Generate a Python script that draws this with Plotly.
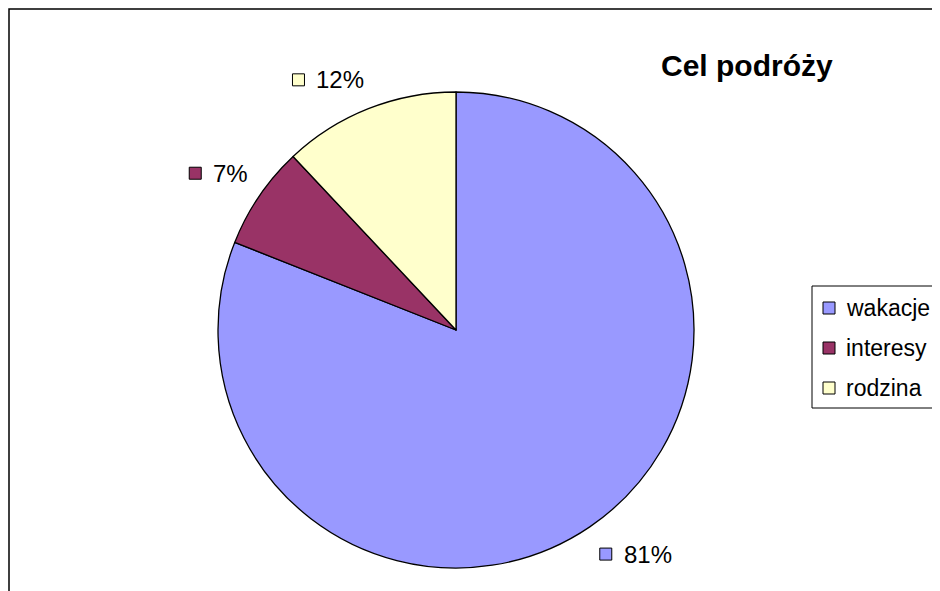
import math
import plotly.graph_objects as go

# ---- data ----
categories = ["wakacje", "interesy", "rodzina"]
shares = [81, 7, 12]
colors = ["#9999FF", "#993366", "#FFFFCC"]
title_text = "Cel podróży"

# ---- layout constants (window pixels) ----
OX, OY = 8, 8          # page body margin offset of the plot div
W, H = 940 - OX, 591 - OY
CX, CY, R = 456, 330, 238
FONT = "Liberation Sans, Arial, sans-serif"
FS = 24
CHAR_W = {"%": 0.889}


def text_width(s, size):
    return sum(CHAR_W.get(c, 0.556) for c in s) * size


def px_to_paper_x(px):
    return (px - OX) / W


def px_to_paper_y(py):
    return (OY + H - py) / H


fig = go.Figure()

fig.add_trace(go.Pie(
    labels=categories, values=shares, sort=False,
    direction="clockwise", rotation=0,
    marker=dict(colors=colors, line=dict(color="black", width=1.3)),
    textinfo="none", hoverinfo="label+percent", showlegend=False,
    domain=dict(x=[px_to_paper_x(CX - R), px_to_paper_x(CX + R)],
                y=[px_to_paper_y(CY + R), px_to_paper_y(CY - R)]),
))

# ---- data labels, positioned from slice geometry ----
total = sum(shares)
cum = 0
mx, my, mc = [], [], []
annotations = []
for cat, v, col in zip(categories, shares, colors):
    theta = 2 * math.pi * (cum + v / 2) / total
    cum += v
    dx, dy = math.sin(theta), -math.cos(theta)
    cx = CX + (R + 16) * dx
    cy = CY + (R + 16) * dy
    txt = f"{round(v / total * 100)}%"
    bw = 23 + text_width(txt, FS)
    bh = 28
    left = cx if dx >= 0 else cx - bw
    top = cy if dy >= 0 else cy - bh
    mx.append(left + 7)
    my.append(top + bh / 2)
    mc.append(col)
    annotations.append(dict(
        x=left + 23, y=top + bh / 2, xref="x", yref="y", text=txt,
        showarrow=False, xanchor="left", yanchor="middle",
        font=dict(family=FONT, size=FS, color="black"),
    ))

# ---- manual legend ----
LEG_X, LEG_Y0, LEG_DY = 829, 308, 40
for i, (cat, col) in enumerate(zip(categories, colors)):
    y = LEG_Y0 + i * LEG_DY
    mx.append(LEG_X)
    my.append(y)
    mc.append(col)
    annotations.append(dict(
        x=LEG_X + 15, y=y, xref="x", yref="y", text=cat,
        showarrow=False, xanchor="left", yanchor="middle",
        font=dict(family=FONT, size=23, color="black"),
    ))

fig.add_trace(go.Scatter(
    x=mx, y=my, mode="markers", hoverinfo="skip", showlegend=False,
    marker=dict(symbol="square", size=12, color=mc,
                line=dict(color="black", width=1)),
))

annotations.append(dict(
    x=747, y=65, xref="x", yref="y", text=f"<b>{title_text}</b>",
    showarrow=False, xanchor="center", yanchor="middle",
    font=dict(family=FONT, size=30, color="black"),
))

shapes = [
    # chart frame (right and bottom edges lie outside the view)
    dict(type="rect", xref="x", yref="y", x0=9, y0=9, x1=970, y1=620,
         line=dict(color="black", width=1.5)),
    # legend box
    dict(type="rect", xref="x", yref="y", x0=812, y0=286, x1=970, y1=408,
         line=dict(color="black", width=1)),
]

fig.update_layout(
    width=W, height=H,
    margin=dict(l=0, r=0, t=0, b=0),
    paper_bgcolor="white", plot_bgcolor="white",
    xaxis=dict(visible=False, range=[OX, OX + W], fixedrange=True),
    yaxis=dict(visible=False, range=[OY + H, OY], fixedrange=True),
    annotations=annotations, shapes=shapes,
    showlegend=False,
)

fig.write_html("out.html")
